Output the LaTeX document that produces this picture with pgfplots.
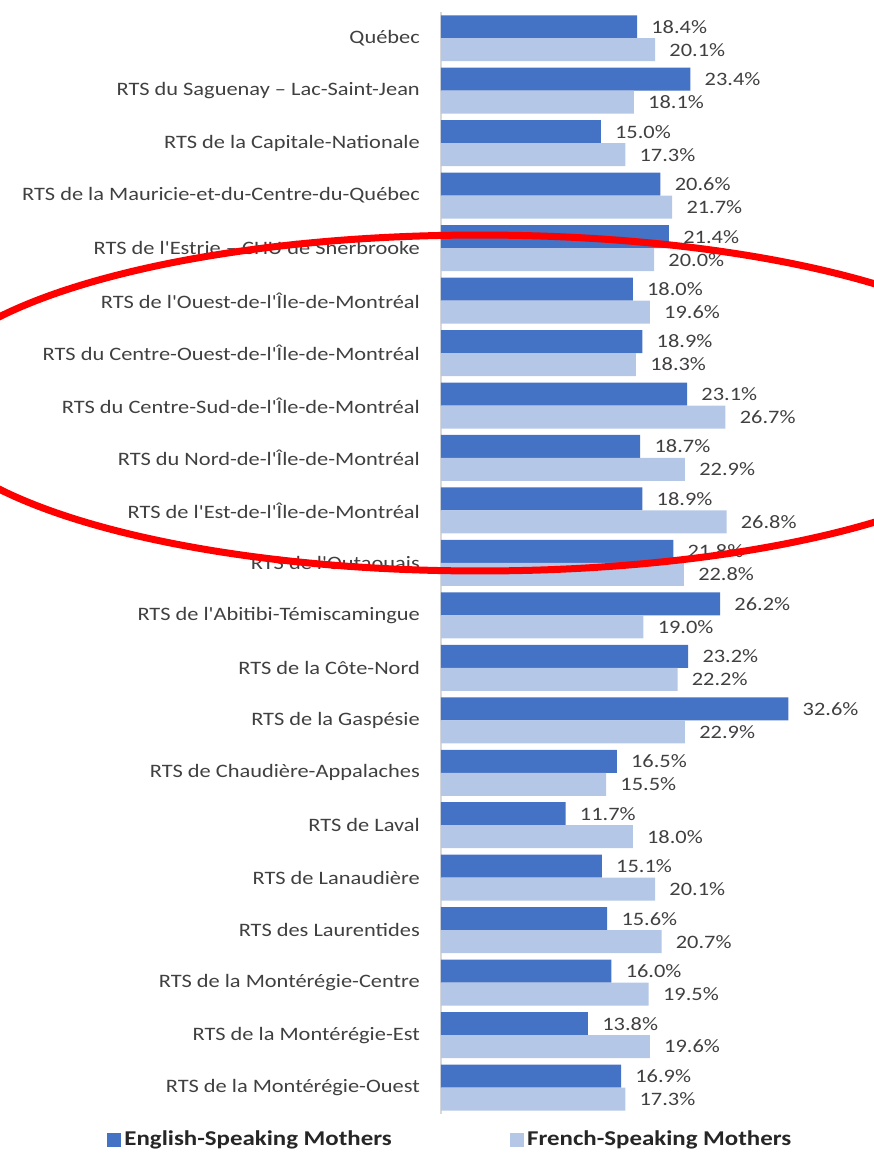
\documentclass[border=0pt]{standalone}
\usepackage{pgfplots}
\pgfplotsset{compat=1.18}
\usepackage{fontspec}
\setmainfont{Carlito}[FakeStretch=1.18, Ligatures=TeXOff]
\definecolor{engblue}{HTML}{4472C4}
\definecolor{frblue}{HTML}{B4C7E7}
\definecolor{axisgray}{HTML}{D9D9D9}
\definecolor{txt}{HTML}{404040}
\newcommand{\lblfont}{\fontsize{10.8}{13}\selectfont}

% idx 0 = Québec (top)
\pgfplotstableread{
idx eng fr
0  18.4 20.1
1  23.4 18.1
2  15.0 17.3
3  20.6 21.7
4  21.4 20.0
5  18.0 19.6
6  18.9 18.3
7  23.1 26.7
8  18.7 22.9
9  18.9 26.8
10 21.8 22.8
11 26.2 19.0
12 23.2 22.2
13 32.6 22.9
14 16.5 15.5
15 11.7 18.0
16 15.1 20.1
17 15.6 20.7
18 16.0 19.5
19 13.8 19.6
20 16.9 17.3
}\rtsdata

\begin{document}
\begin{tikzpicture}[x=0.02cm, y=-0.02cm]
\useasboundingbox (0,0) rectangle (873,1156);
\begin{axis}[
    at={(8.82cm,-0.24cm)}, anchor=north west,
    scale only axis, width=8.528cm, height=22.04cm,
    xbar, bar width=0.46cm,
    xmin=0, xmax=40, ymin=-0.5, ymax=20.5, y dir=reverse,
    axis x line=none, axis y line=left,
    y axis line style={-, draw=axisgray, line width=0.04cm},
    ytick={0,...,20},
    yticklabels={Québec, RTS du Saguenay – Lac-Saint-Jean, RTS de la Capitale-Nationale,
        RTS de la Mauricie-et-du-Centre-du-Québec, RTS de l'Estrie – CHU de Sherbrooke,
        RTS de l'Ouest-de-l'Île-de-Montréal, RTS du Centre-Ouest-de-l'Île-de-Montréal,
        RTS du Centre-Sud-de-l'Île-de-Montréal, RTS du Nord-de-l'Île-de-Montréal,
        RTS de l'Est-de-l'Île-de-Montréal, RTS de l'Outaouais, RTS de l'Abitibi-Témiscamingue,
        RTS de la Côte-Nord, RTS de la Gaspésie, RTS de Chaudière-Appalaches, RTS de Laval,
        RTS de Lanaudière, RTS des Laurentides, RTS de la Montérégie-Centre,
        RTS de la Montérégie-Est, RTS de la Montérégie-Ouest},
    ytick style={draw=none},
    yticklabel style={font=\lblfont, text=txt, anchor=east, inner sep=0pt, xshift=-0.34cm},
    nodes near coords={\pgfmathprintnumber[fixed, fixed zerofill, precision=1, assume math mode=true]{\pgfplotspointmeta}\%},
    nodes near coords align=horizontal,
    every node near coord/.append style={font=\lblfont, text=txt, anchor=west, inner sep=0pt, xshift=0.28cm},
    clip=false,
    legend columns=2,
    legend style={at={(-0.783,-0.0236)}, anchor=west, draw=none, fill=none,
        inner sep=0pt, font=\bfseries\fontsize{12}{14}\selectfont, text=black!85,
        /tikz/every even column/.append style={column sep=2.3cm}},
]
\addplot[fill=engblue, draw=none, bar shift=0.23cm,
    legend image code/.code={\fill[engblue] (0cm,-0.135cm) rectangle (0.27cm,0.135cm);}]
    table[x=eng, y=idx] {\rtsdata};
\addlegendentry{English-Speaking Mothers}
\addplot[fill=frblue, draw=none, bar shift=-0.23cm,
    legend image code/.code={\fill[frblue] (0cm,-0.135cm) rectangle (0.27cm,0.135cm);}]
    table[x=fr, y=idx] {\rtsdata};
\addlegendentry{French-Speaking Mothers}
\end{axis}
% hand-drawn highlight around the Montréal regions
\draw[red, line width=0.14cm] (480,403) ellipse [x radius=11.2cm, y radius=3.36cm];
\end{tikzpicture}
\end{document}
